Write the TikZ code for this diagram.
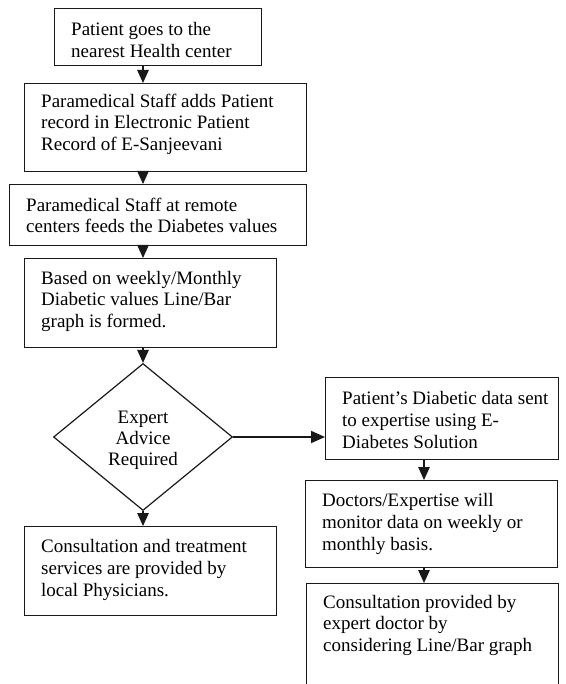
\documentclass[tikz,border=0pt]{standalone}
\usepackage{fontspec}
\setmainfont{Liberation Serif}
\usetikzlibrary{shapes.geometric,arrows.meta}
\tikzset{
  boxline/.style={draw=black!90, line width=1.2pt},
  txt/.style={anchor=north west, inner sep=0pt, align=left, font=\fontsize{19}{21.6}\selectfont},
  ctxt/.style={anchor=north, inner sep=0pt, align=center, font=\fontsize{19}{21.2}\selectfont},
  arr/.style={draw=black!90, line width=1.2pt, -{Triangle[length=13pt,width=11.5pt]}},
  harr/.style={draw=black!90, line width=1.9pt, -{Triangle[length=14pt,width=12pt]}}
}
\newcommand{\boxat}[5]{\node[boxline, rectangle, inner sep=0pt, minimum width={#4-#2}, minimum height={#5-#3}, anchor=north west] (#1) at (#2,#3) {};}
\begin{document}
\begin{tikzpicture}[x=1pt,y=-1pt]
\useasboundingbox (0,0) rectangle (565,684);
% left column boxes
\boxat{b1}{54}{8}{261}{65}
\boxat{b2}{24}{83}{306}{171}
\boxat{b3}{8.5}{184}{306}{245}
\boxat{b4}{24}{258}{276}{347}
\node[boxline, diamond, minimum width=179pt, minimum height=147pt, inner sep=0pt] (dia) at (143,437) {};
\boxat{b5}{24}{526}{276}{615}
% right column boxes
\boxat{r1}{325}{377}{558}{459}
\boxat{r2}{305}{480}{557}{567}
\boxat{r3}{306}{583}{558}{700}
\coordinate (rx) at (424,0);
% texts
\node[txt] (t1) at (71,22.5) {Patient goes to the\\nearest Health center};
\node[txt] (t2) at (41,93.5) {Paramedical Staff adds Patient\\record in Electronic Patient\\Record of E-Sanjeevani};
\node[txt] (t3) at (26,197.5) {Paramedical Staff at remote\\centers feeds the Diabetes values};
\node[txt] (t4) at (41,271) {Based on weekly/Monthly\\Diabetic values Line/Bar\\graph is formed.};
\node[ctxt] (td) at (143,410.7) {Expert\\Advice\\Required};
\node[txt] (t5) at (41,539.5) {Consultation and treatment\\services are provided by\\local Physicians.};
\node[txt] (tr1) at (342,391.5) {Patient’s Diabetic data sent\\to expertise using E-\\Diabetes Solution};
\node[txt] (tr2) at (322,493.5) {Doctors/Expertise will\\monitor data on weekly or\\monthly basis.};
\node[txt] (tr3) at (323,595) {Consultation provided by\\expert doctor by\\considering Line/Bar graph};
% connectors
\draw[arr] (b1.south -| dia.center) -- (b2.north -| dia.center);
\draw[arr] (b2.south -| dia.center) -- (b3.north -| dia.center);
\draw[arr] (b3.south -| dia.center) -- (b4.north -| dia.center);
\draw[arr] (b4.south -| dia.center) -- (dia.north);
\draw[arr] (dia.south) -- (b5.north -| dia.center);
\draw[harr] (dia.east) -- (r1.west |- dia.east);
\draw[arr] (r1.south -| rx) -- (r2.north -| rx);
\draw[arr] (r2.south -| rx) -- (r3.north -| rx);
\end{tikzpicture}
\end{document}
